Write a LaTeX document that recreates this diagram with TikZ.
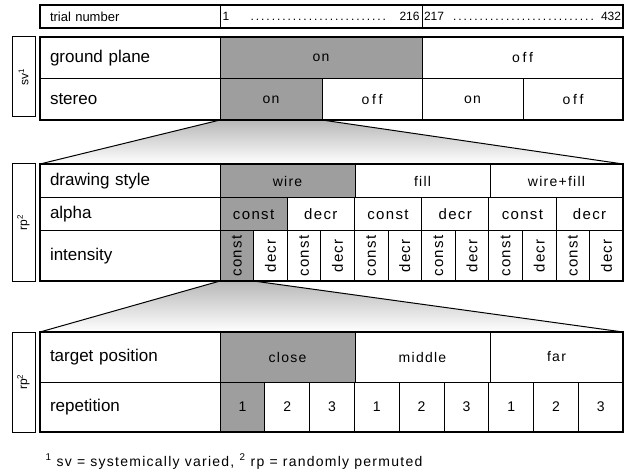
\documentclass[tikz,border=0pt]{standalone}
\usepackage{fontspec}
\setmainfont{Liberation Sans}
\newfontfamily\spacedfont[LetterSpace=9]{Liberation Sans}
\newfontfamily\widefont[LetterSpace=20]{Liberation Sans}
\usetikzlibrary{backgrounds}

\tikzset{
  cell/.style={draw, line width=1pt, anchor=north west, inner sep=0pt, outer sep=0pt},
  lab/.style={cell, inner xsep=10pt, text width=160pt, align=left, font=\fontsize{17}{17}\selectfont},
  val/.style={cell, font=\spacedfont\fontsize{14}{14}\selectfont},
  offval/.style={val, font=\widefont\fontsize{14}{14}\selectfont},
  on/.style={fill=black!38},
  side/.style={draw, line width=1pt, inner sep=0pt, rotate=90, minimum height=23pt, font=\fontsize{12}{12}\selectfont},
  frame/.style={line width=1.6pt},
  cone/.style={line width=1pt},
  fade/.style={top color=black!28, bottom color=white}
}

\begin{document}
\begin{tikzpicture}[x=1pt,y=-1pt]
\useasboundingbox (0,0) rectangle (624,473);

% trial numbers
\node[lab, minimum height=23pt, font=\fontsize{13}{13}\selectfont] (trial) at (40,5) {trial number};
\node[cell, minimum width=202pt, minimum height=23pt, font=\fontsize{12}{12}\selectfont] (half1) at (220,5)
  {\makebox[197pt]{1\hspace{18pt}\dotfill\hspace{10pt}216}};
\node[cell, minimum width=201pt, minimum height=23pt, font=\fontsize{12}{12}\selectfont] (half2) at (422,5)
  {\makebox[197pt]{217\hspace{8pt}\dotfill\hspace{6pt}432}};
\draw[frame] (trial.north west) rectangle (half2.south east);

% systematically varied factors
\node[side, minimum width=80pt] (sv) at (23.5,77) {sv\textsuperscript{1}};
\node[lab, minimum height=42pt] (ground) at (40,37) {ground plane};
\node[lab, minimum height=41pt] (stereo) at (40,79) {stereo};
\node[val, on, minimum width=202pt, minimum height=42pt] (gpon) at (220,37) {on};
\node[offval, minimum width=201pt, minimum height=42pt] (gpoff) at (422,37) {off};
\node[val, on, minimum width=102pt, minimum height=41pt] (ston) at (220,79) {on};
\node[offval, minimum width=100pt, minimum height=41pt] (stoff) at (322,79) {off};
\node[val, minimum width=101pt, minimum height=41pt] (ston2) at (422,79) {on};
\node[offval, minimum width=100pt, minimum height=41pt] (stoff2) at (523,79) {off};
\draw[frame] (ground.north west) rectangle (stoff2.south east);

% randomly permuted: rendering
\node[side, minimum width=117pt] (rp1) at (23.5,222.5) {rp\textsuperscript{2}};
\node[lab, minimum height=34pt] (style) at (40,164) {drawing style};
\node[lab, minimum height=33pt] (alpha) at (40,198) {alpha};
\node[lab, minimum height=50pt] (intens) at (40,231) {intensity};
\node[val, on, minimum width=135pt, minimum height=34pt] (wire) at (220,164) {wire};
\node[val, minimum width=135pt, minimum height=34pt] (fill) at (355,164) {fill};
\node[val, minimum width=133pt, minimum height=34pt] (wirefill) at (490,164) {wire+fill};
\node[val, on, minimum width=67.2pt, minimum height=33pt, font=\spacedfont\fontsize{15}{15}\selectfont] (alpha0) at (220,198) {const};
\foreach \t [count=\i] in {decr,const,decr,const,decr}
  \node[val, minimum width=67.2pt, minimum height=33pt, font=\spacedfont\fontsize{15}{15}\selectfont] (alpha\i) at ({220+\i*67.2},198) {\t};
\node[val, on, minimum width=33.6pt, minimum height=50pt, font=\spacedfont\fontsize{15}{15}\selectfont] (int0) at (220,231) {\rotatebox{90}{const}};
\foreach \t [count=\i] in {decr,const,decr,const,decr,const,decr,const,decr,const,decr}
  \node[val, minimum width=33.6pt, minimum height=50pt, font=\spacedfont\fontsize{15}{15}\selectfont] (int\i) at ({220+\i*33.6},231) {\rotatebox{90}{\t}};
\draw[frame] (style.north west) rectangle (int11.south east);

% randomly permuted: target
\node[side, minimum width=100pt] (rp2) at (23.5,382) {rp\textsuperscript{2}};
\node[lab, minimum height=50pt] (target) at (40,332) {target position};
\node[lab, minimum height=50pt] (rep) at (40,382) {repetition};
\node[val, on, minimum width=135pt, minimum height=50pt] (close) at (220,332) {close};
\node[val, minimum width=135pt, minimum height=50pt] (middle) at (355,332) {middle};
\node[val, minimum width=133pt, minimum height=50pt] (far) at (490,332) {far};
\node[val, on, minimum width=44.8pt, minimum height=50pt, font=\fontsize{14}{14}\selectfont] (rep0) at (220,382) {1};
\foreach \t [count=\i] in {2,3,1,2,3,1,2,3}
  \node[val, minimum width=44.8pt, minimum height=50pt, font=\fontsize{14}{14}\selectfont] (rep\i) at ({220+\i*44.8},382) {\t};
\draw[frame] (target.north west) rectangle (rep8.south east);

% zoom cones
\begin{scope}[on background layer]
  \shade[fade] (ston.south west) -- (ston.south east) -- (wirefill.north east) -- (style.north west) -- cycle;
  \shade[fade] (int0.south west) -- (int0.south east) -- (far.north east) -- (target.north west) -- cycle;
\end{scope}
\draw[cone] (ston.south west) -- (style.north west);
\draw[cone] (ston.south east) -- (wirefill.north east);
\draw[cone] (int0.south west) -- (target.north west);
\draw[cone] (int0.south east) -- (far.north east);

\node[anchor=base west, font=\spacedfont\fontsize{14}{14}\selectfont] (note) at (42,466)
  {\textsuperscript{1} sv = systemically varied, \textsuperscript{2} rp = randomly permuted};
\end{tikzpicture}
\end{document}
